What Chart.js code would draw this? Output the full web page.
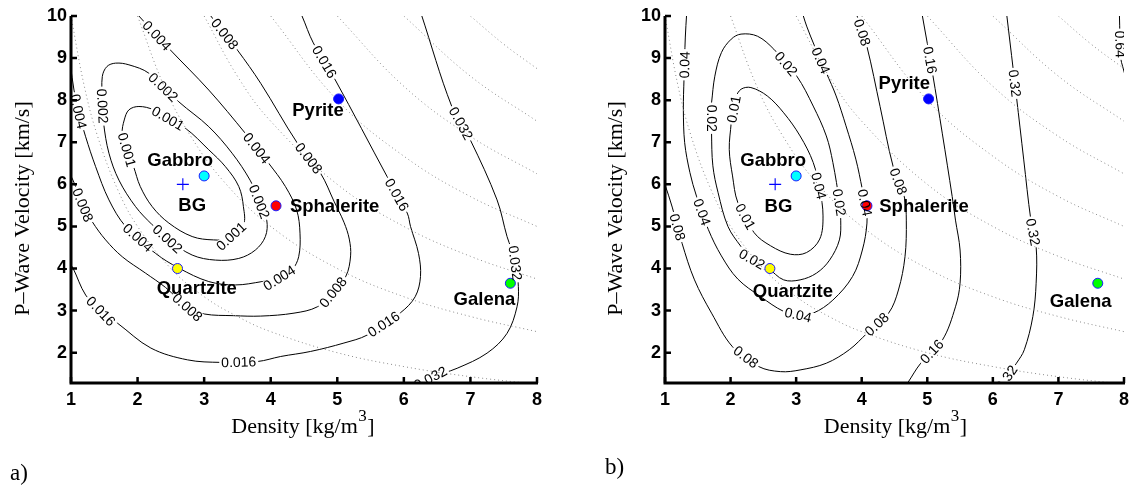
<!DOCTYPE html>
<html><head><meta charset="utf-8">
<script src="https://cdn.jsdelivr.net/npm/chart.js@4.4.1/dist/chart.umd.min.js"></script>
<style>
html,body{margin:0;padding:0;background:#fff;overflow:hidden}
#wrap{position:relative;width:1135px;height:494px;background:#fff}
canvas{position:absolute;top:0}
</style></head><body>
<div id="wrap">
<canvas id="panelA" width="565" height="494" style="left:0px"></canvas>
<canvas id="panelB" width="545" height="494" style="left:590px"></canvas>
</div>
<script>
// ================= DATA =================
const densityTicks = [1,2,3,4,5,6,7,8];
const velocityTicks = [2,3,4,5,6,7,8,9,10];

const rockNames    = ['Gabbro','BG','Sphalerite','Pyrite','Quartzite','Galena'];
const rockDensity  = [3.0, 2.68, 4.08, 5.02, 2.6, 7.6];
const rockVelocity = [6.2, 6.0, 5.49, 8.03, 4.0, 3.65];

// dotted guide curves
const guide10 = [[1.0,10.0],[1.2,8.33],[1.4,7.14],[1.7,5.88],[2.0,5.0],[2.5,4.0],[3.0,3.33],[3.5,2.86],[4.0,2.5],[5.0,2.0],[6.0,1.67],[7.0,1.43],[8.0,1.25]];
const guide20 = [[2.0,10.0],[2.4,8.33],[2.8,7.14],[3.3,6.06],[4.0,5.0],[5.0,4.0],[6.0,3.33],[7.0,2.86],[8.0,2.5]];
const guide30 = [[3.0,10.0],[3.5,8.57],[4.0,7.5],[5.0,6.0],[6.0,5.0],[7.0,4.29],[8.0,3.75]];
const guide40 = [[4.0,10.0],[5.0,8.0],[6.0,6.67],[7.0,5.71],[8.0,5.0]];
const guide50 = [[5.0,10.0],[6.0,8.33],[7.0,7.14],[8.0,6.25]];
const guide60 = [[6.0,10.0],[7.0,8.57],[8.0,7.5]];
const guide70 = [[7.0,10.0],[7.5,9.33],[8.0,8.75]];

// panel a) contours
const levelsA = ['0.001','0.002','0.004','0.008','0.016','0.032'];
const a001 = [[1.84,6.82],[1.77,7.21],[1.80,7.53],[1.87,7.77],[2.02,7.85],[2.24,7.77],[2.72,7.33],[3.07,6.82],[3.32,6.42],[3.52,5.95],[3.59,5.47],[3.59,5.04],[3.37,4.72],[3.14,4.68],[2.82,4.76],[2.47,5.08],[2.22,5.47],[2.04,5.95],[1.94,6.42],[1.84,6.82]];
const a002 = [[1.47,8.00],[1.47,8.56],[1.54,8.80],[1.67,8.88],[1.87,8.84],[2.17,8.64],[2.62,7.96],[3.07,7.37],[3.42,6.74],[3.69,6.10],[3.82,5.63],[3.94,5.15],[3.92,4.76],[3.77,4.44],[3.52,4.24],[3.17,4.20],[2.82,4.32],[2.47,4.68],[2.22,5.04],[1.97,5.47],[1.72,6.10],[1.57,6.74],[1.49,7.45],[1.47,8.00]];
const a004 = [[0.99,8.85],[1.045,8.24],[1.12,7.69],[1.22,7.13],[1.37,6.42],[1.57,5.63],[1.82,5.00],[2.27,4.36],[2.62,4.01],[3.07,3.69],[3.47,3.61],[3.87,3.69],[4.12,3.77],[4.32,3.97],[4.42,4.28],[4.44,4.84],[4.39,5.39],[4.22,5.95],[3.97,6.50],[3.62,7.21],[3.07,8.24],[2.47,9.23],[2.02,10.0],[1.98,10.08]];
const a008 = [[0.98,6.25],[1.03,6.10],[1.18,5.51],[1.32,5.11],[1.52,4.68],[1.77,4.28],[2.12,3.89],[2.42,3.55],[2.75,3.08],[3.00,2.92],[3.44,2.88],[3.85,2.87],[4.35,2.94],[4.70,3.09],[4.93,3.43],[5.13,3.82],[5.20,4.30],[5.18,4.70],[5.10,5.10],[4.95,5.60],[4.75,6.26],[4.40,6.98],[3.85,8.40],[3.50,9.19],[3.10,10.0],[3.08,10.05]];
const a016 = [[0.98,4.12],[1.03,4.01],[1.22,3.37],[1.45,2.99],[1.70,2.70],[2.20,2.11],[2.75,1.83],[3.25,1.77],[3.80,1.79],[4.15,1.91],[4.60,2.03],[5.10,2.23],[5.45,2.42],[5.95,2.95],[6.17,3.33],[6.25,3.81],[6.22,4.36],[6.10,5.00],[6.05,5.32],[5.75,6.18],[4.97,8.48],[4.64,9.36],[4.47,10.0],[4.45,10.05]];
const a032 = [[6.26,10.05],[6.72,7.85],[7.00,7.05],[7.40,5.63],[7.55,4.76],[7.67,4.20],[7.72,3.57],[7.70,3.09],[7.55,2.46],[7.25,1.99],[6.80,1.63],[6.42,1.42],[6.25,1.28],[6.20,1.24]];

// panel b) contours
const levelsB = ['0.01','0.02','0.04','0.08','0.16','0.32','0.64'];
const b01 = [[2.01,7.47],[1.98,6.83],[2.03,6.20],[2.11,5.57],[2.36,4.85],[2.61,4.54],[2.91,4.34],[3.16,4.38],[3.36,4.70],[3.41,5.25],[3.36,5.88],[3.26,6.52],[3.06,7.15],[2.81,7.70],[2.56,8.10],[2.31,8.30],[2.16,8.26],[2.08,8.06],[2.01,7.47]];
const b02 = [[1.71,7.94],[1.76,8.57],[1.86,9.13],[2.01,9.45],[2.16,9.57],[2.41,9.52],[2.66,9.21],[3.01,8.57],[3.26,7.86],[3.46,7.15],[3.56,6.52],[3.66,5.57],[3.68,5.15],[3.66,4.68],[3.51,4.20],[3.31,3.89],[3.06,3.73],[2.81,3.73],[2.57,4.01],[2.31,4.24],[2.16,4.52],[1.96,5.00],[1.81,5.80],[1.73,6.44],[1.71,7.23],[1.71,7.94]];
const b04 = [[1.33,10.05],[1.31,9.50],[1.29,8.50],[1.28,7.78],[1.30,6.99],[1.38,6.28],[1.48,5.72],[1.66,4.93],[1.86,4.30],[2.11,3.75],[2.46,3.33],[2.81,2.98],[3.03,2.90],[3.26,2.94],[3.56,3.25],[3.86,3.81],[4.01,4.44],[4.08,5.08],[4.06,5.49],[4.01,5.88],[3.91,6.60],[3.76,7.39],[3.61,8.10],[3.46,8.65],[3.28,9.29],[3.16,9.76],[3.11,10.0],[3.10,10.05]];
const b08 = [[0.97,6.10],[1.00,5.99],[1.11,5.46],[1.26,4.60],[1.45,3.73],[1.71,2.94],[2.03,2.14],[2.43,1.67],[2.76,1.55],[3.06,1.59],[3.46,1.75],[3.81,2.07],[4.08,2.46],[4.41,2.94],[4.56,3.49],[4.66,4.28],[4.68,5.15],[4.65,5.70],[4.48,6.42],[4.28,7.85],[4.08,9.27],[3.93,10.0],[3.92,10.05]];
const b16 = [[4.92,10.05],[5.08,8.64],[5.23,7.20],[5.38,5.71],[5.43,5.15],[5.50,4.44],[5.50,3.65],[5.43,3.09],[5.23,2.30],[4.90,1.75],[4.70,1.28],[4.67,1.22]];
const b32 = [[6.21,10.05],[6.36,8.08],[6.47,6.60],[6.58,5.15],[6.66,4.52],[6.66,3.65],[6.61,2.86],[6.48,2.07],[6.36,1.75],[6.15,1.28],[6.12,1.22]];
const b64 = [[7.93,10.05],[7.95,9.00],[7.98,8.80],[8.05,8.40]];

// contour labels: [text, contour index, density, velocity]
const labelsA = [
 ['0.004',2,2.30,9.55],['0.008',3,3.29,9.55],['0.004',2,1.10,7.73],['0.002',1,1.49,7.86],
 ['0.002',1,2.39,8.32],['0.001',0,2.45,7.55],['0.001',0,1.84,6.82],['0.004',2,3.79,6.86],
 ['0.002',1,3.83,5.59],['0.008',3,1.19,5.52],['0.001',0,3.42,4.74],['0.002',1,2.46,4.72],
 ['0.004',2,2.00,4.72],['0.004',2,4.12,3.80],['0.016',4,1.45,2.99],['0.008',3,2.75,3.08],
 ['0.016',4,3.52,1.78],['0.008',3,4.94,3.43],['0.016',4,5.70,2.67],['0.032',5,6.40,1.39],
 ['0.016',4,4.81,8.91],['0.008',3,4.57,6.62],['0.016',4,5.87,5.73],['0.032',5,6.86,7.45],
 ['0.032',5,7.67,4.13]
];
const labelsB = [
 ['0.04',2,1.30,8.84],['0.02',1,2.83,8.84],['0.04',2,3.42,8.97],['0.08',3,4.01,9.61],
 ['0.16',4,5.04,8.95],['0.32',5,6.33,8.40],['0.64',6,7.94,9.33],['0.02',1,1.71,7.57],
 ['0.01',0,2.07,7.78],['0.04',0,3.33,5.96],['0.02',1,3.66,5.57],['0.04',2,4.06,5.57],
 ['0.08',3,4.56,6.07],['0.32',5,6.59,4.86],['0.04',2,1.58,5.35],['0.08',3,1.13,4.96],
 ['0.01',0,2.22,5.23],['0.02',1,2.33,4.23],['0.04',2,3.03,2.90],['0.08',3,2.23,1.89],
 ['0.08',3,4.24,2.66],['0.16',4,5.07,2.03],['0.32',5,6.20,1.41]
];
// rock-name text anchors (density, velocity) per panel
const namePosA = [[2.64,6.58],[2.82,5.51],[4.96,5.49],[4.71,7.77],[2.89,3.55],[7.21,3.27]];
const namePosB = [[2.65,6.58],[2.73,5.48],[4.95,5.48],[4.65,8.42],[2.95,3.46],[7.34,3.22]];

// ================= STYLE =================
const SANS = '"Liberation Sans", Arial, Helvetica, sans-serif';
const SERIF = '"Liberation Serif", "Times New Roman", Times, serif';
const rockFill = ['#00ffff','#0000ff','#ff0000','#0000ff','#ffff00','#00ff00'];
const rockEdge = '#1a1aff';

function pts(a){ return a.map(p => ({x:p[0], y:p[1]})); }

function nearestOnCurve(chart, curve, d, v){
  const xs = chart.scales.x, ys = chart.scales.y;
  const px = xs.getPixelForValue(d), py = ys.getPixelForValue(v);
  let best = Infinity, ang = 0, qx = px, qy = py;
  for (let i = 0; i < curve.length - 1; i++){
    const ax = xs.getPixelForValue(curve[i][0]), ay = ys.getPixelForValue(curve[i][1]);
    const bx = xs.getPixelForValue(curve[i+1][0]), by = ys.getPixelForValue(curve[i+1][1]);
    const dx = bx-ax, dy = by-ay, L = dx*dx+dy*dy;
    let t = L ? ((px-ax)*dx + (py-ay)*dy)/L : 0;
    t = Math.max(0, Math.min(1, t));
    const cx = ax + t*dx, cy = ay + t*dy;
    const dist = (px-cx)*(px-cx) + (py-cy)*(py-cy);
    if (dist < best){ best = dist; ang = Math.atan2(dy, dx); qx = cx; qy = cy; }
  }
  if (ang > Math.PI/2) ang -= Math.PI;
  if (ang <= -Math.PI/2) ang += Math.PI;
  return {x:qx, y:qy, a:ang};
}

function buildPanel(canvasId, spec){
  const datasets = [];
  datasets.push({
    kind:'marker', order:1,
    data: rockDensity.map((d,i) => ({x:d, y:rockVelocity[i]})),
    showLine:false,
    pointStyle: rockNames.map(n => n === 'BG' ? 'cross' : 'circle'),
    pointRadius: rockNames.map(n => n === 'BG' ? 6 : 5),
    pointBackgroundColor: rockFill,
    pointBorderColor: rockNames.map(n => n === 'BG' ? '#0000ff' : rockEdge),
    pointBorderWidth: rockNames.map(n => n === 'BG' ? 1.1 : 1),
    clip: false
  });
  spec.guides.forEach(g => datasets.push({
    kind:'dot', order:2, data: pts(g), showLine:true, borderColor:'#8a8a8a',
    borderWidth:1, borderDash:[1,3], pointRadius:0, tension:0.4, clip:0
  }));
  spec.contours.forEach(c => datasets.push({
    kind:'line', order:3, data: pts(c), showLine:true, borderColor:'#000',
    borderWidth:1, pointRadius:0, tension:0.35, clip:0
  }));

  let boxesDone = false;
  function labelGeom(chart){
    return spec.labels.map(l => {
      const g = nearestOnCurve(chart, spec.contours[l[1]], l[2], l[3]);
      return {text:l[0], x:g.x, y:g.y, a:g.a};
    });
  }
  const plugin = {
    id: 'panelDeco_' + canvasId,
    beforeDatasetsDraw(){ boxesDone = false; },
    beforeDatasetDraw(chart, args){
      const ds = chart.data.datasets[args.index];
      if (boxesDone || ds.kind === 'line') return;
      boxesDone = true;
      const ctx = chart.ctx, ca = chart.chartArea;
      ctx.save();
      ctx.beginPath(); ctx.rect(ca.left, ca.top, ca.right-ca.left, ca.bottom-ca.top); ctx.clip();
      ctx.font = '14px ' + SANS;
      labelGeom(chart).forEach(L => {
        const w = ctx.measureText(L.text).width;
        ctx.save(); ctx.translate(L.x, L.y); ctx.rotate(L.a);
        ctx.fillStyle = '#fff'; ctx.fillRect(-w/2-2, -5.5, w+4, 11);
        ctx.restore();
      });
      ctx.restore();
    },
    afterDatasetsDraw(chart){
      const ctx = chart.ctx, ca = chart.chartArea;
      const xs = chart.scales.x, ys = chart.scales.y;
      // contour labels
      ctx.save();
      ctx.beginPath(); ctx.rect(ca.left, ca.top, ca.right-ca.left, ca.bottom-ca.top); ctx.clip();
      ctx.font = '14px ' + SANS; ctx.fillStyle = '#000';
      ctx.textAlign = 'center'; ctx.textBaseline = 'middle';
      labelGeom(chart).forEach(L => {
        ctx.save(); ctx.translate(L.x, L.y); ctx.rotate(L.a);
        ctx.fillText(L.text, 0, 1); ctx.restore();
      });
      ctx.restore();
      // rock names
      ctx.save();
      ctx.font = 'bold 18.5px ' + SANS; ctx.fillStyle = '#000';
      ctx.textAlign = 'center'; ctx.textBaseline = 'middle';
      rockNames.forEach((n,i) => {
        const p = spec.namePos[i];
        ctx.fillText(n, xs.getPixelForValue(p[0]), ys.getPixelForValue(p[1]) + 1);
      });
      ctx.restore();
      // axes (left + bottom) with inward ticks
      ctx.save();
      ctx.strokeStyle = '#000'; ctx.lineWidth = 3; ctx.lineJoin = 'miter'; ctx.lineCap = 'butt';
      ctx.beginPath();
      ctx.moveTo(ca.left, ca.top); ctx.lineTo(ca.left, ca.bottom); ctx.lineTo(ca.right + 1, ca.bottom);
      ctx.stroke();
      ctx.lineWidth = 2.5;
      ctx.beginPath();
      densityTicks.forEach(t => { const x = xs.getPixelForValue(t); ctx.moveTo(x, ca.bottom); ctx.lineTo(x, ca.bottom - 6); });
      velocityTicks.forEach(t => { const y = ys.getPixelForValue(t); ctx.moveTo(ca.left, y); ctx.lineTo(ca.left + 6, y); });
      ctx.stroke();
      ctx.restore();
    },
    afterDraw(chart){
      const ctx = chart.ctx;
      ctx.save();
      ctx.fillStyle = '#000';
      // y title
      ctx.font = '22px ' + SERIF;
      ctx.save(); ctx.translate(spec.yTitleX, 208.5); ctx.rotate(-Math.PI/2);
      ctx.textAlign = 'center'; ctx.textBaseline = 'alphabetic';
      ctx.fillText('P\u2013Wave Velocity [km/s]', 0, 0);
      ctx.restore();
      // x title with superscript
      const t1 = 'Density [kg/m', t2 = '3', t3 = ']';
      ctx.font = '22px ' + SERIF; const w1 = ctx.measureText(t1).width, w3 = ctx.measureText(t3).width;
      ctx.font = '17px ' + SERIF; const w2 = ctx.measureText(t2).width;
      let x0 = spec.xTitleX - (w1 + w2 + w3)/2; const base = 433;
      ctx.textAlign = 'left'; ctx.textBaseline = 'alphabetic';
      ctx.font = '22px ' + SERIF; ctx.fillText(t1, x0, base);
      ctx.font = '17px ' + SERIF; ctx.fillText(t2, x0 + w1 + 0.5, base - 12);
      ctx.font = '22px ' + SERIF; ctx.fillText(t3, x0 + w1 + w2 + 1, base);
      // panel letter
      ctx.font = '23px ' + SERIF;
      ctx.fillText(spec.letter, spec.letterX, spec.letterY);
      ctx.restore();
    }
  };

  const tickFont = {family: SANS, size: 18, weight: 'bold'};
  return new Chart(document.getElementById(canvasId), {
    type: 'scatter',
    data: {datasets},
    options: {
      responsive: false, animation: false, devicePixelRatio: 1, events: [],
      layout: {padding: {left: 0, top: 16, right: spec.padRight, bottom: 0}},
      plugins: {legend: {display: false}, tooltip: {enabled: false}},
      scales: {
        x: {
          type: 'linear', min: 1, max: 8,
          afterBuildTicks: s => { s.ticks = densityTicks.map(v => ({value: v})); },
          afterFit: s => { s.height = 111; },
          ticks: {font: tickFont, color: '#000', padding: 6, maxRotation: 0, autoSkip: false},
          grid: {display: false, drawTicks: false}, border: {display: false}
        },
        y: {
          type: 'linear', min: 1.28, max: 10,
          afterBuildTicks: s => { s.ticks = velocityTicks.map(v => ({value: v})); },
          afterFit: s => { s.width = spec.yWidth; },
          ticks: {font: tickFont, color: '#000', padding: 4, autoSkip: false},
          grid: {display: false, drawTicks: false}, border: {display: false}
        }
      }
    },
    plugins: [plugin]
  });
}

const guides = [guide10, guide20, guide30, guide40, guide50, guide60, guide70];

buildPanel('panelA', {
  contours: [a001, a002, a004, a008, a016, a032], levels: levelsA,
  labels: labelsA, namePos: namePosA, guides,
  yWidth: 71, padRight: 28, yTitleX: 28.5, xTitleX: 302.5,
  letter: 'a)', letterX: 10, letterY: 480
});
buildPanel('panelB', {
  contours: [b01, b02, b04, b08, b16, b32, b64], levels: levelsB,
  labels: labelsB, namePos: namePosB, guides,
  yWidth: 75, padRight: 6, yTitleX: 32, xTitleX: 305,
  letter: 'b)', letterX: 15, letterY: 474
});
</script>
</body></html>
